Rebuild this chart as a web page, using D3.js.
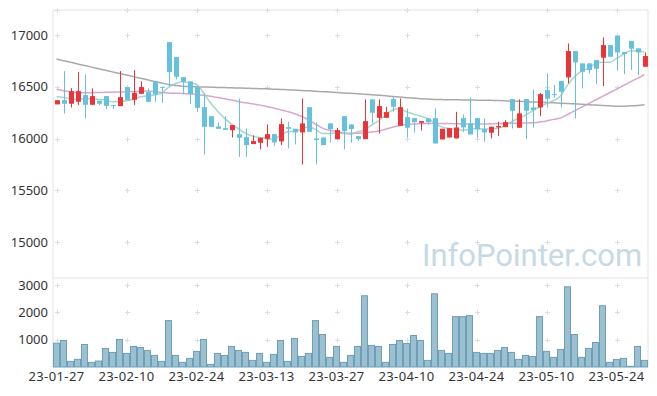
<!DOCTYPE html>
<html><head><meta charset="utf-8">
<script src="https://cdn.jsdelivr.net/npm/d3@7"></script>
<style>body{margin:0;background:#fff}svg{display:block}text{font-family:"Noto Sans",sans-serif}</style>
</head><body><svg id="c" width="657" height="396"></svg>
<script>
const dates = ["23-01-27","23-01-30","23-01-31","23-02-01","23-02-02","23-02-03","23-02-06","23-02-07","23-02-08","23-02-09",
"23-02-10","23-02-13","23-02-14","23-02-15","23-02-16","23-02-17","23-02-20","23-02-21","23-02-22","23-02-23",
"23-02-24","23-02-27","23-02-28","23-03-02","23-03-03","23-03-06","23-03-07","23-03-08","23-03-09","23-03-10",
"23-03-13","23-03-14","23-03-15","23-03-16","23-03-17","23-03-20","23-03-21","23-03-22","23-03-23","23-03-24",
"23-03-27","23-03-28","23-03-29","23-03-30","23-03-31","23-04-03","23-04-04","23-04-05","23-04-06","23-04-07",
"23-04-10","23-04-11","23-04-12","23-04-13","23-04-14","23-04-17","23-04-18","23-04-19","23-04-20","23-04-21",
"23-04-24","23-04-25","23-04-26","23-04-27","23-04-28","23-05-02","23-05-03","23-05-04","23-05-08","23-05-09",
"23-05-10","23-05-11","23-05-12","23-05-15","23-05-16","23-05-17","23-05-18","23-05-19","23-05-22","23-05-23",
"23-05-24","23-05-25","23-05-26","23-05-30","23-05-31"];
const openV = [16330,16371,16336,16355,16420,16326,16365,16410,16323,16313,16497,16374,16432,16448,16552,16500,16932,16787,16593,16552,
16494,16303,16216,16117,16100,16081,16042,16013,15946,15959,15997,16042,15972,16110,16094,16059,16303,16001,16010,16146,
15994,16216,16136,16023,15994,16378,16200,16200,16381,16123,16207,16197,16152,16194,16197,15991,16010,16001,16197,16146,
16197,16091,16056,16107,16110,16381,16104,16381,16300,16300,16468,16429,16555,16591,16845,16726,16726,16758,16781,16903,
16993,16836,16942,16871,16694];
const highV = [16370,16652,16487,16642,16619,16484,16365,16410,16323,16652,16497,16661,16552,16484,16552,16500,16932,16787,16593,16552,
16494,16436,16216,16155,16216,16130,16387,16097,16030,16007,16136,16042,16194,16162,16094,16387,16303,16155,16010,16146,
16104,16216,16136,16023,16378,16378,16378,16307,16400,16387,16290,16197,16168,16194,16290,16094,16100,16258,16233,16394,
16197,16194,16114,16162,16178,16381,16378,16381,16475,16442,16629,16516,16555,16919,16845,16726,16726,16758,16977,16903,
16993,16836,16942,16871,16832];
const lowV = [16330,16242,16300,16323,16194,16326,16320,16284,16284,16313,16371,16323,16429,16355,16355,16345,16500,16571,16429,16332,
16258,15846,16113,16094,16084,16010,15823,15823,15946,15894,15920,15930,15936,15904,15943,15749,16065,15749,15936,15962,
15994,15894,15959,15975,15994,16146,16049,16200,16258,16123,16010,16059,16078,16136,15952,15991,16010,16001,16065,16039,
16001,15969,16001,16023,16110,16097,16104,15994,16104,16217,16300,16397,16300,16533,16194,16484,16629,16526,16507,16790,
16655,16623,16662,16613,16694];
const closeV = [16370,16336,16458,16458,16326,16410,16336,16316,16313,16400,16371,16442,16497,16355,16426,16490,16642,16597,16548,16429,
16297,16113,16113,16094,16084,16130,16007,15936,15975,16007,16042,15962,16139,16094,16059,16146,16065,15985,15936,16091,
16081,16071,16091,15994,16168,16249,16313,16255,16307,16303,16104,16158,16168,16158,15952,16094,16100,16107,16107,16039,
16088,16059,16114,16120,16159,16268,16243,16268,16275,16429,16384,16423,16452,16845,16736,16645,16662,16674,16903,16790,
16832,16816,16868,16832,16797];
const maShort = [16403,16397,16384,16378,16387,16384,16378,16371,16355,16355,16365,16381,16403,16413,16420,16436,16494,16532,16548,16539,
16525,16440,16345,16265,16195,16140,16095,16049,16023,16010,16001,15994,16033,16065,16071,16088,16113,16088,16049,16049,
16055,16049,16042,16065,16081,16130,16171,16226,16275,16291,16258,16236,16216,16194,16152,16113,16097,16088,16081,16088,
16096,16091,16091,16098,16120,16162,16194,16226,16268,16307,16339,16365,16410,16516,16597,16652,16678,16726,16736,16736,
16774,16813,16848,16845,16836];
const maMid = [16475,16462,16450,16445,16443,16443,16445,16447,16448,16450,16452,16455,16457,16458,16455,16445,16440,16438,16436,16432,
16426,16418,16408,16396,16384,16372,16358,16345,16335,16325,16310,16295,16278,16260,16240,16215,16180,16140,16100,16080,
16068,16055,16050,16050,16055,16062,16072,16090,16108,16125,16135,16141,16144,16146,16146,16146,16145,16143,16141,16140,
16139,16140,16142,16144,16146,16147,16149,16150,16152,16160,16170,16185,16198,16232,16267,16302,16337,16372,16407,16442,
16477,16512,16547,16582,16617];
const maLong = [16768,16752,16737,16721,16706,16690,16675,16660,16644,16629,16613,16598,16582,16567,16551,16536,16522,16512,16506,16502,
16500,16498,16496,16494,16492,16490,16488,16486,16484,16482,16480,16477,16474,16471,16468,16465,16461,16457,16453,16449,
16445,16441,16437,16432,16428,16423,16418,16413,16407,16401,16395,16390,16385,16381,16378,16376,16375,16374,16373,16372,
16371,16370,16369,16367,16365,16362,16360,16357,16354,16351,16348,16345,16342,16339,16335,16331,16327,16323,16319,16316,
16313,16313,16316,16320,16326];
const volume = [873,970,206,279,824,170,218,679,533,1006,497,752,715,606,424,206,1697,424,170,315,
570,1006,97,497,424,752,606,533,242,497,170,461,970,206,1042,388,497,1697,1188,352,
752,170,424,752,2606,788,752,170,824,970,861,1152,970,242,2679,606,497,1842,1842,1879,
533,497,497,606,715,533,279,424,388,1842,570,352,642,2933,1188,352,679,897,2242,170,
279,315,24,752,242];
const xTickLabels = ["23-01-27","23-02-10","23-02-24","23-03-13","23-03-27","23-04-10","23-04-24","23-05-10","23-05-24"];
const priceTicks = [15000,15500,16000,16500,17000];
const volTicks = [1000,2000,3000];

const svg = d3.select("#c");
const L = 53, R = 648, PT = 10, PB = 278, VB = 367;
const x = d3.scaleBand().domain(dates).range([L, R]).paddingInner(0).paddingOuter(0);
const xc = d => x(d) + x.bandwidth()/2;
const y = d3.scaleLinear().domain([14652, 17242]).range([PB, PT]);
const yv = d3.scaleLinear().domain([0, 3256]).range([VB, PB]);
const gridC = "#e3e3e3";

// frames
svg.append("path").attr("d", `M${L},${VB}V${PT}H${R}V${VB}`).attr("fill","none").attr("stroke",gridC);
svg.append("line").attr("x1",L).attr("x2",R).attr("y1",PB).attr("y2",PB).attr("stroke",gridC);

// plus markers
function plus(px, py){
  svg.append("path").attr("d",`M${px-2.5},${py}H${px+2.5}M${px},${py-2.5}V${py+2.5}`).attr("stroke","#dcdcdc").attr("stroke-width",1);
}
xTickLabels.forEach(t => {
  const px = Math.round(xc(t))+0.5;
  priceTicks.forEach(p => plus(px, Math.round(y(p))+0.5));
  volTicks.forEach(v => plus(px, Math.round(yv(v))+0.5));
  plus(px, PT+0.5);
});

// watermark
svg.append("text").attr("x",422).attr("y",266).attr("font-size",31)
  .style("font-family","Roboto, sans-serif").attr("fill","#c6d9e5").text("InfoPointer.com");

// y labels
svg.selectAll("text.py").data(priceTicks).enter().append("text").attr("class","py")
  .attr("x",48).attr("y",d=>y(d)).attr("dy","0.35em").attr("text-anchor","end")
  .attr("font-size",13).attr("fill","#333").text(d=>d);
svg.selectAll("text.vy").data(volTicks).enter().append("text").attr("class","vy")
  .attr("x",48).attr("y",d=>yv(d)).attr("dy","0.35em").attr("text-anchor","end")
  .attr("font-size",13).attr("fill","#333").text(d=>d);
// x labels
svg.selectAll("text.xl").data(xTickLabels).enter().append("text").attr("class","xl")
  .attr("x",d=>xc(d)).attr("y",381).attr("text-anchor","middle")
  .attr("font-size",13).attr("letter-spacing","0.4").attr("fill","#333").text(d=>d);

// volume bars
svg.append("g").selectAll("rect").data(dates).enter().append("rect")
  .attr("x",d=>x(d)+0.5).attr("width",x.bandwidth()-1)
  .attr("y",(d,i)=>yv(volume[i])).attr("height",(d,i)=>VB-yv(volume[i]))
  .attr("fill","#9ac0d1").attr("stroke","#6f9fb6").attr("stroke-width",1);

// MA lines
function maLine(arr, color){
  const line = d3.line().x((d,i)=>xc(dates[i])).y(d=>y(d)).curve(d3.curveMonotoneX);
  svg.append("path").datum(arr).attr("d",line).attr("fill","none").attr("stroke",color).attr("stroke-width",1.5).attr("opacity",0.85);
}
maLine(maLong, "#9a9a9a");
maLine(maMid, "#d296c8");
maLine(maShort, "#93d0c3");

// candles
const up = "#ec3338", down = "#66c1dc";
const cg = svg.append("g");
dates.forEach((d,i)=>{
  const o=openV[i], c=closeV[i], h=highV[i], l=lowV[i];
  const col = c>=o ? up : down;
  const cx = Math.round(xc(d))+0.5;
  cg.append("line").attr("x1",cx).attr("x2",cx).attr("y1",y(h)).attr("y2",y(l)).attr("stroke",col).attr("stroke-width",1);
  const top = y(Math.max(o,c)), bot = y(Math.min(o,c));
  cg.append("rect").attr("x",cx-2.5).attr("width",5).attr("y",top).attr("height",Math.max(1,bot-top)).attr("fill",col);
});
</script></body></html>
